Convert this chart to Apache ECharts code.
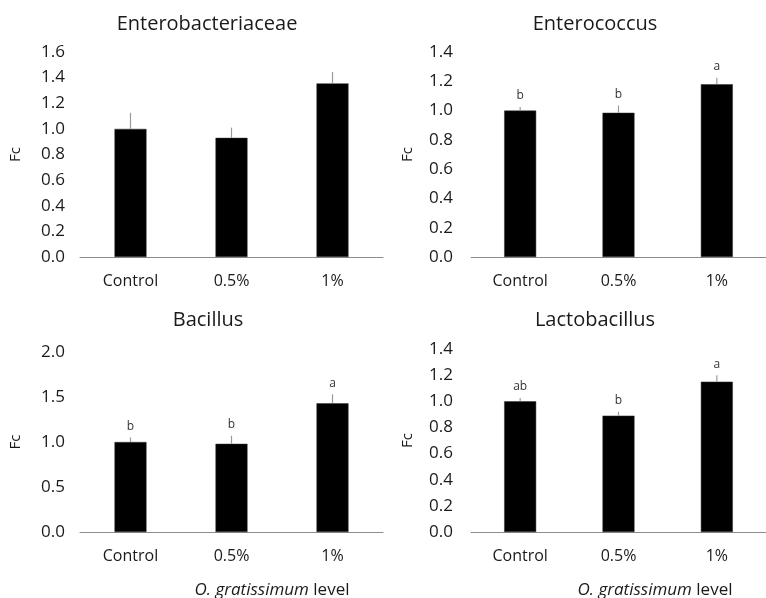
<!DOCTYPE html>
<html><head><meta charset="utf-8">
<script src="https://cdn.jsdelivr.net/npm/echarts@6/dist/echarts.min.js"></script>
<style>html,body{margin:0;padding:0;background:#fff}#c{width:766px;height:598px}</style>
</head><body><div id="c"></div>
<script>
const categories = ['Control', '0.5%', '1%'];

const enterobacteriaceae = [1.00, 0.93, 1.355];
const enterobacteriaceaeErr = [0.125, 0.08, 0.09];
const enterobacteriaceaeLetters = ['', '', ''];

const enterococcus = [1.00, 0.985, 1.18];
const enterococcusErr = [0.025, 0.05, 0.045];
const enterococcusLetters = ['b', 'b', 'a'];

const bacillus = [1.00, 0.98, 1.43];
const bacillusErr = [0.05, 0.09, 0.10];
const bacillusLetters = ['b', 'b', 'a'];

const lactobacillus = [1.00, 0.89, 1.15];
const lactobacillusErr = [0.025, 0.03, 0.05];
const lactobacillusLetters = ['ab', 'b', 'a'];

const panelTitles = ['Enterobacteriaceae', 'Enterococcus', 'Bacillus', 'Lactobacillus'];
const yMax = [1.6, 1.4, 2.0, 1.4];
const yInterval = [0.2, 0.2, 0.5, 0.2];
const yAxisName = 'Fc';
const xAxisTitle = 'O. gratissimum';
const xAxisTitleRest = ' level';

const panels = [
  {vals: enterobacteriaceae, err: enterobacteriaceaeErr, letters: enterobacteriaceaeLetters},
  {vals: enterococcus, err: enterococcusErr, letters: enterococcusLetters},
  {vals: bacillus, err: bacillusErr, letters: bacillusLetters},
  {vals: lactobacillus, err: lactobacillusErr, letters: lactobacillusLetters}
];

const FONT = '"Open Sans", sans-serif';
const grids = [
  {left: 80, right: 383, top: 52, bottom: 341},
  {left: 471, right: -8, top: 52, bottom: 341},
  {left: 80, right: 383, top: 352, bottom: 66},
  {left: 471, right: -8, top: 349, bottom: 66}
];
const titlePos = [[202, 9], [590, 9], [203, 305], [590, 305]];

const option = {
  animation: false,
  backgroundColor: '#fff',
  title: panelTitles.map((t, i) => ({
    text: t, left: titlePos[i][0], top: titlePos[i][1], textAlign: 'center',
    textStyle: {fontFamily: FONT, fontSize: 20, fontWeight: 'normal', color: '#1a1a1a'}
  })).concat([267, 650].map(x => ({
    text: '{i|' + xAxisTitle + '}{n|' + xAxisTitleRest + '}',
    left: x, top: 577, textAlign: 'center',
    textStyle: {fontWeight: 'normal', rich: {
      i: {fontFamily: FONT, fontSize: 17, fontStyle: 'italic', fontWeight: 'normal', color: '#1a1a1a'},
      n: {fontFamily: FONT, fontSize: 17, fontWeight: 'normal', color: '#1a1a1a'}
    }}
  }))),
  grid: grids,
  xAxis: grids.map((g, i) => ({
    type: 'category', gridIndex: i, data: categories,
    axisLine: {lineStyle: {color: '#8c8c8c', width: 1}},
    axisTick: {show: false},
    axisLabel: {fontFamily: FONT, fontSize: 16, color: '#1a1a1a', margin: 16}
  })),
  yAxis: grids.map((g, i) => ({
    type: 'value', gridIndex: i, min: 0, max: yMax[i], interval: yInterval[i],
    axisLine: {show: false}, axisTick: {show: false}, splitLine: {show: false},
    axisLabel: {fontFamily: FONT, fontSize: 17, color: '#1a1a1a', margin: i % 2 ? 18 : 15,
      formatter: v => v.toFixed(1)},
    name: yAxisName, nameLocation: 'middle', nameGap: i % 2 ? 56 : 57, nameRotate: 90,
    nameTextStyle: {fontFamily: FONT, fontSize: 15, color: '#1a1a1a'}
  })),
  series: []
};

panels.forEach((p, i) => {
  option.series.push({
    type: 'bar', xAxisIndex: i, yAxisIndex: i, data: p.vals, barWidth: 32,
    itemStyle: {color: '#000', borderColor: '#333', borderWidth: 0.5}
  });
  option.series.push({
    type: 'custom', xAxisIndex: i, yAxisIndex: i, z: 5,
    data: p.vals.map((v, k) => [k, v, p.err[k]]),
    renderItem: (params, api) => {
      const k = api.value(0), v = api.value(1), e = api.value(2);
      const p0 = api.coord([k, v]);
      const p1 = api.coord([k, v + e]);
      const children = [{
        type: 'line', shape: {x1: p0[0], y1: p0[1], x2: p1[0], y2: p1[1]},
        style: {stroke: '#9a9a9a', lineWidth: 1.2}
      }];
      const letter = p.letters[params.dataIndex];
      if (letter) {
        children.push({
          type: 'text', x: p1[0], y: p1[1] - 5,
          style: {text: letter, fontFamily: FONT, fontSize: 12, fill: '#333', align: 'center', verticalAlign: 'bottom'}
        });
      }
      return {type: 'group', children};
    }
  });
});

const chart = echarts.init(document.getElementById('c'), null, {renderer: 'canvas'});
chart.setOption(option);
</script></body></html>
